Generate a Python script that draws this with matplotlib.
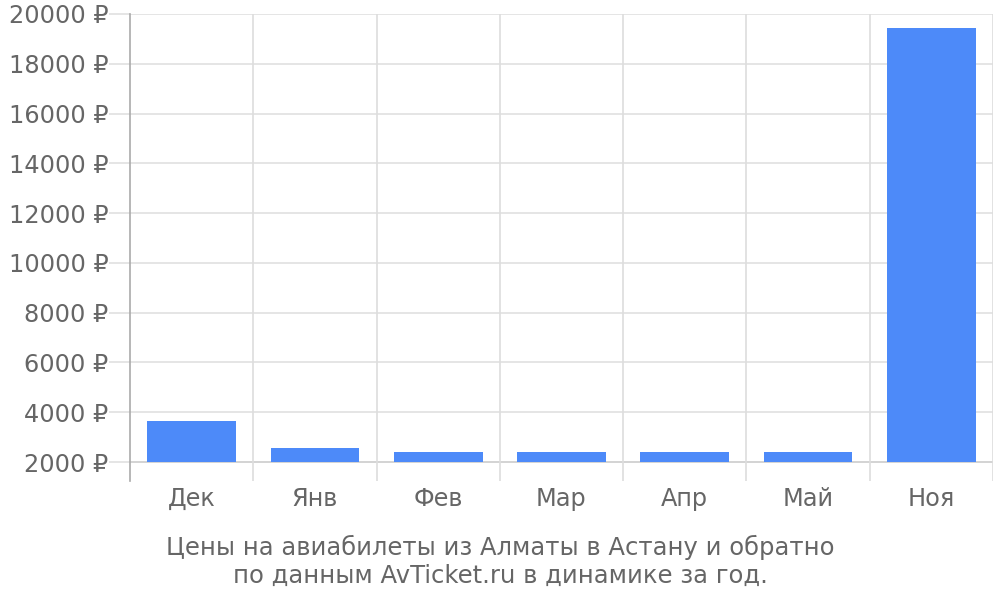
import matplotlib
matplotlib.use("Agg")
import matplotlib.pyplot as plt
import numpy as np

months = ["Дек", "Янв", "Фев", "Мар", "Апр", "Май", "Ноя"]
prices = [3636, 2551, 2390, 2390, 2390, 2418, 19425]
yticks = [2000, 4000, 6000, 8000, 10000, 12000, 14000, 16000, 18000, 20000]
baseline = 2000
caption = "Цены на авиабилеты из Алматы в Астану и обратно\nпо данным AvTicket.ru в динамике за год."

plt.rcParams['font.family'] = ['DejaVu Sans']
fig = plt.figure(figsize=(10, 6), dpi=100)
ax = fig.add_axes([0.13, 0.198, 0.863, 0.7787])

x = np.arange(len(months))
heights = [p - baseline for p in prices]
ax.bar(x, heights, bottom=baseline, width=0.72, color="#4d8af9", zorder=3)

ax.set_xlim(-0.5, len(months) - 0.5)
ax.set_ylim(1230, 20000)

# horizontal grid
for v in yticks:
    ax.axhline(v, color="#cccccc" if v == baseline else "#e0e0e0", lw=1.2, zorder=1)
# vertical grid at category boundaries
for b in np.arange(-0.5, len(months), 1.0)[1:]:
    ax.axvline(b, color="#dddddd", lw=1.2, zorder=1)

for s in ["top", "right", "bottom"]:
    ax.spines[s].set_visible(False)
ax.spines["left"].set_color("#aaaaaa")
ax.spines["left"].set_linewidth(1.2)

ax.set_yticks(yticks)
ax.set_yticklabels([f"{v} ₽" for v in yticks])
ax.tick_params(axis="y", length=15, width=1.2, color="#e0e0e0", labelsize=17.3,
               labelcolor="#666666", pad=0.5)
ax.set_xticks(x)
ax.set_xticklabels(months)
ax.tick_params(axis="x", length=0, labelsize=17.3, labelcolor="#666666", pad=4)

fig.text(0.5, 0.064, caption, ha="center", va="center", fontsize=17.5,
         color="#666666", linespacing=1.2)

fig.savefig("out.png", dpi=100)
